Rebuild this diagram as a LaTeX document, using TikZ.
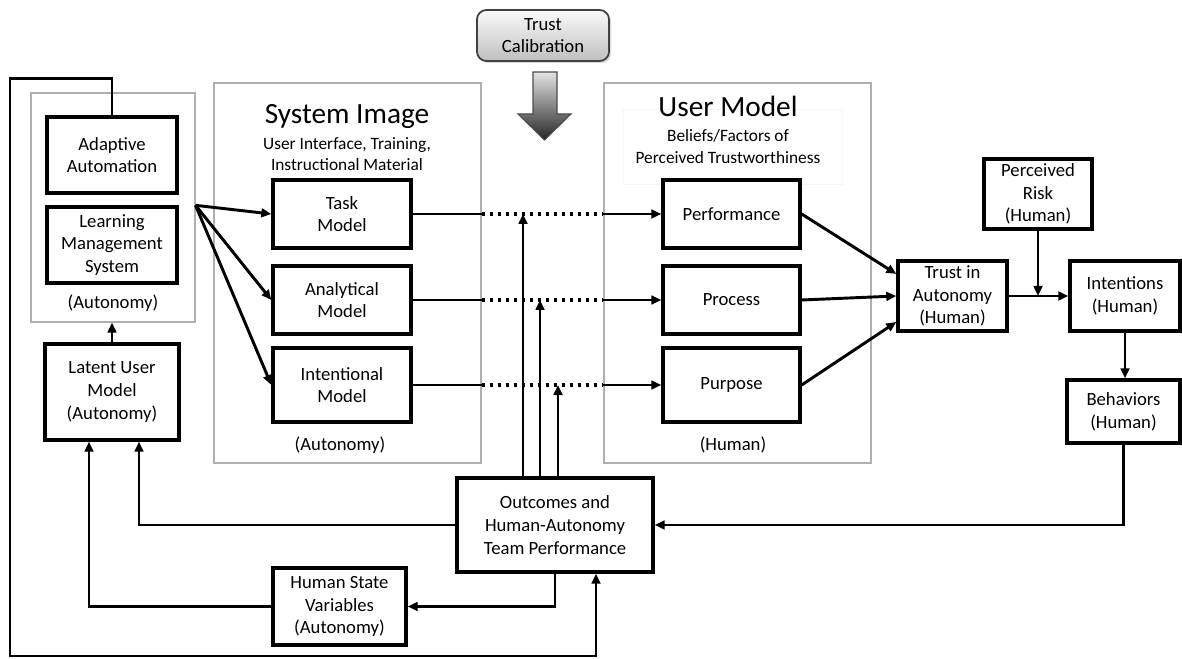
\documentclass[tikz,border=0pt]{standalone}
\usepackage{fontspec}
\setmainfont{Carlito}
\usepackage{tikz}
\usetikzlibrary{arrows.meta,calc,shadows}

\begin{document}
\begin{tikzpicture}[x=.75pt,y=-.75pt,
  box/.style={draw=black,line width=2.5pt,fill=white,inner sep=1pt,align=center,font=\fontsize{14}{17}\selectfont},
  frame/.style={draw={rgb,255:red,175;green,175;blue,175},line width=0.8pt,fill=white,inner sep=0pt},
  txt/.style={inner sep=0pt,align=center,font=\fontsize{14}{17}\selectfont},
  conn/.style={draw=black,line width=2.2pt,-{Triangle[length=7.5pt,width=6.5pt]}},
  link/.style={draw=black,line width=2.2pt},
  dots/.style={draw=black,line width=2.8pt,dash pattern=on 2.8pt off 3.2pt}]
\path[use as bounding box] (0,0) rectangle (1182,659);
\path[fill=white,draw=none] (0,0) rectangle (1182,659);
% containers
\node[frame,minimum width=123pt,minimum height=171.75pt] (autc) at (113,207.5) {};
\node[frame,minimum width=200.25pt,minimum height=285pt] (sysc) at (347.5,273) {};
\node[frame,minimum width=200.25pt,minimum height=285pt] (umc) at (737.5,273) {};
\node[draw=gray!7,line width=0.6pt,minimum width=164.25pt,minimum height=56.25pt] (umfaint) at (732.5,146.5) {};
\node[txt] (autlbl) at (113,303) {(Autonomy)};
\node[txt] (syslbl) at (340,445) {(Autonomy)};
\node[txt] (umlbl) at (733,445) {(Human)};
\node[txt,font=\fontsize{22}{26}\selectfont] (systitle) at (347,117) {System Image};
\node[txt,font=\fontsize{13}{15.5}\selectfont] (syssub) at (347,154) {User Interface, Training,\\Instructional Material};
\node[txt,font=\fontsize{22}{26}\selectfont] (umtitle) at (728,106) {User Model};
\node[txt,font=\fontsize{13}{16.5}\selectfont] (umsub) at (728,147) {Beliefs/Factors of\\Perceived Trustworthiness};
% trust calibration
\node[box,line width=1.3pt,draw=black!75,rounded corners=7pt,top color=gray!4,bottom color=gray!50,
  drop shadow={shadow xshift=1.5pt,shadow yshift=-1.5pt,opacity=0.3},
  minimum width=99pt,minimum height=38.25pt] (tcal) at (543,35.5) {Trust\\Calibration};
\shade[top color=gray!22,bottom color=black!85,draw=black!70,line width=0.8pt]
  (533,72) -- (557,72) -- (557,114) -- (571,114) -- (544.5,140) -- (518,114) -- (533,114) -- cycle;
% boxes
\node[box,minimum width=97.5pt,minimum height=57pt] (aa) at (112,155) {Adaptive\\Automation};
\node[box,minimum width=97.5pt,minimum height=57pt] (lms) at (112,245) {Learning\\Management\\System};
\node[box,minimum width=100.5pt,minimum height=72pt] (lum) at (112,392) {Latent User\\Model\\(Autonomy)};
\node[box,minimum width=103.5pt,minimum height=51pt] (task) at (342,214) {Task\\Model};
\node[box,minimum width=103.5pt,minimum height=51pt] (ana) at (342,300) {Analytical\\Model};
\node[box,minimum width=103.5pt,minimum height=55.5pt] (int) at (342,385) {Intentional\\Model};
\node[box,minimum width=102.75pt,minimum height=51pt] (perf) at (731.5,214) {Performance};
\node[box,minimum width=102.75pt,minimum height=51pt] (proc) at (731.5,300) {Process};
\node[box,minimum width=102.75pt,minimum height=55.5pt] (purp) at (731.5,385) {Purpose};
\node[box,minimum width=81.75pt,minimum height=52.5pt] (tia) at (952.5,296) {Trust in\\Autonomy\\(Human)};
\node[box,minimum width=81pt,minimum height=52.5pt] (risk) at (1038,194) {Perceived\\Risk\\(Human)};
\node[box,minimum width=82.5pt,minimum height=52.5pt] (intn) at (1125,296) {Intentions\\(Human)};
\node[box,minimum width=84.75pt,minimum height=47.25pt] (beh) at (1123.5,411.5) {Behaviors\\(Human)};
\node[box,minimum width=147pt,minimum height=70.5pt] (out) at (555,525) {Outcomes and\\Human-Autonomy\\Team Performance};
\node[box,minimum width=99.75pt,minimum height=57.75pt] (hsv) at (339.5,606.5) {Human State\\Variables\\(Autonomy)};
% system image -> user model
\coordinate (fan) at (autc.east |- lms.north);
\foreach \m in {task,ana,int}
  \draw[conn] (fan) -- (\m.west);
\foreach \a/\b in {task/perf,ana/proc,int/purp}{
  \draw[link] (\a.east) -- (\a.east -| sysc.east);
  \draw[dots] (\a.east -| sysc.east) -- (\b.west -| umc.west);
  \draw[conn] (\b.west -| umc.west) -- (\b.west);
}
\foreach \dx/\r in {-32/task,-15/ana,3/int}
  \draw[conn] ($(out.north)+(\dx,0)$) coordinate (up) -- (up |- \r.east);
% user model -> trust -> behaviour
\draw[conn] (perf.east) -- ($(tia.west)+(0,-22)$);
\draw[conn] (proc.east) -- (tia.west);
\draw[conn] (purp.east) -- ($(tia.west)+(0,26)$);
\draw[conn] (tia.east) -- (intn.west);
\draw[conn] (risk.south) -- (risk.south |- tia.east);
\draw[conn] (intn.south) -- (intn.south |- beh.north);
\draw[conn] (beh.south) |- (out.east);
% feedback
\draw[conn] (out.west) -| ($(lum.south)+(27,0)$);
\draw[conn] (out.south) |- (hsv.east);
\draw[conn] (hsv.west) -| ($(lum.south)+(-23,0)$);
\draw[conn] (lum.north) -- (lum.north |- autc.south);
\draw[conn] (aa.north) -- ++(0,-37) -| (10,656) -| ($(out.south)+(41,0)$);
\end{tikzpicture}
\end{document}
